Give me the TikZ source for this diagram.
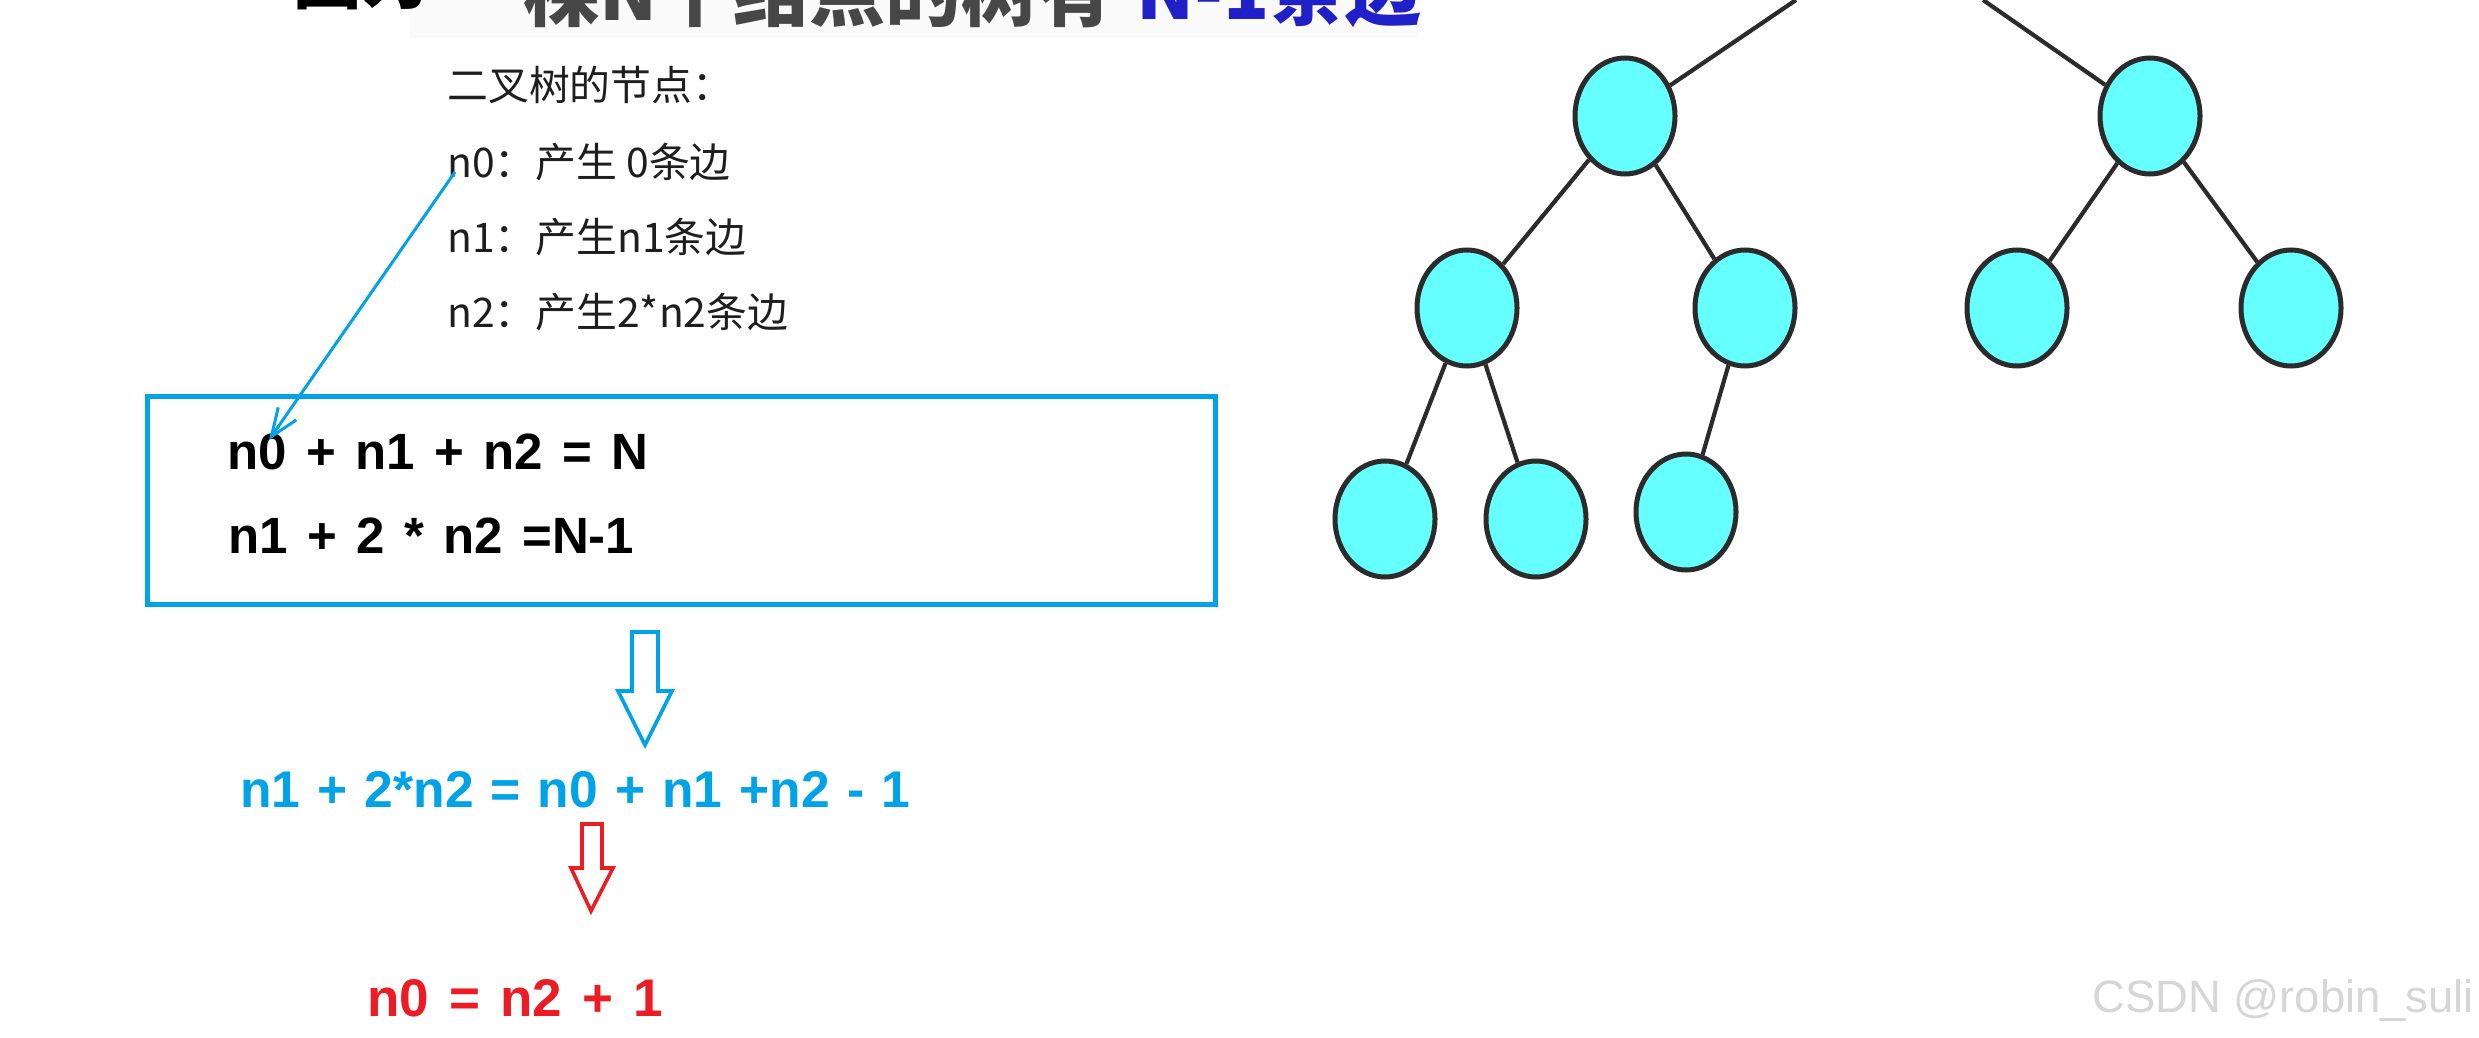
\documentclass[tikz,border=0pt]{standalone}
\usepackage{fontspec}
\setmainfont{Liberation Sans}
\newfontfamily\cjk{Noto Sans CJK SC}
\usetikzlibrary{arrows.meta,shapes.geometric}
\definecolor{paintblue}{HTML}{00A2E8}
\definecolor{paintred}{HTML}{ED1C24}
\definecolor{nodecyan}{HTML}{66FFFF}
\definecolor{edgegray}{HTML}{2B2B2B}
\definecolor{titleblue}{HTML}{2020C8}
\definecolor{listgray}{HTML}{1E1E1E}
\newcommand\myeqspace{\spaceskip=0.38em\relax}
\newcommand\myeqspaceb{\spaceskip=0.33em\relax}
\begin{document}
\begin{tikzpicture}[x=0.5pt,y=-0.5pt,
  treenode/.style={ellipse, draw=edgegray, line width=2.5pt, fill=nodecyan,
    minimum width=50pt, minimum height=58pt, inner sep=0pt},
  treeedge/.style={draw=edgegray, line width=2.1pt},
  txt/.style={anchor=base west, inner sep=0pt},
  listtxt/.style={txt, text=listgray, font=\fontsize{20.4pt}{24pt}\selectfont\cjk},
  eqtxt/.style={txt, font=\fontsize{25.5pt}{30pt}\selectfont\bfseries\myeqspace},
  eqmid/.style={txt, font=\fontsize{25.8pt}{30pt}\selectfont\bfseries\myeqspaceb},
  eqbig/.style={txt, font=\fontsize{26.5pt}{30pt}\selectfont\bfseries\myeqspace},
  hollowarrow/.style={line width=1.8pt, fill=white, line join=miter},
  titletxt/.style={txt, font=\fontsize{38pt}{40pt}\selectfont\cjk\bfseries}]
\useasboundingbox (0,0) rectangle (2479,1038);
\clip (0,0) rectangle (2479,1038);
\fill[white] (0,0) rectangle (2479,1038);

% clipped title
\fill[black!2] (410,0) rectangle (1419,38);
\node[titletxt, font=\fontsize{34pt}{40pt}\selectfont\cjk\bfseries, text=black] (t1) at (293,4) {因为};
\node[titletxt, text=black!72] (t2) at (447,21) {一棵N个结点的树有};
\node[titletxt, text=titleblue] (t3) at (1136,20) {N-1条边};

% list
\node[listtxt] (l0) at (447,101) {二叉树的节点：};
\node[listtxt] (l1) at (447,177) {n0：产生 0条边};
\node[listtxt] (l2) at (447,252) {n1：产生n1条边};
\node[listtxt] (l3) at (447,327) {n2：产生2*n2条边};

% box
\node[draw=paintblue, line width=2.5pt, minimum width=534pt, minimum height=104pt,
  inner sep=0pt, anchor=north west] (box) at (145,394) {};
\node[eqtxt] (e1) at (227,469) {n0 + n1 + n2 = N};
\node[eqtxt] (e2) at (228,553) {n1 + 2 * n2 =N-1};

% connector
\coordinate (cs) at (455,172);
\coordinate (ce) at (269,440);
\draw[paintblue, line width=1.5pt, -{Straight Barb[length=14pt,width=11pt]}] (cs) -- (ce);

% hollow arrows
\draw[paintblue, hollowarrow] (632,632) -- (658,632) -- (658,691) -- (672,691)
  -- (645,745) -- (618,691) -- (632,691) -- cycle;
\node[eqmid, text=paintblue] (e3) at (240,807) {n1 + 2*n2 = n0 + n1 +n2 - 1};
\draw[paintred, hollowarrow] (582,824) -- (602,824) -- (602,868) -- (613,868)
  -- (591,911) -- (571,868) -- (582,868) -- cycle;
\node[eqbig, text=paintred] (e4) at (367,1016) {n0 = n2 + 1};

% tree
\coordinate (rl) at (1796,0);
\coordinate (rr) at (1983,0);
\node[treenode] (a) at (1625,116) {};
\node[treenode] (b) at (2150,116) {};
\node[treenode] (c) at (1467,308) {};
\node[treenode] (d) at (1745,308) {};
\node[treenode] (e) at (2017,308) {};
\node[treenode] (f) at (2291,308) {};
\node[treenode] (g) at (1385,519) {};
\node[treenode] (h) at (1536,519) {};
\node[treenode] (i) at (1686,512) {};
\draw[treeedge] (a) -- (rl);
\draw[treeedge] (b) -- (rr);
\draw[treeedge] (a) -- (c);
\draw[treeedge] (a) -- (d);
\draw[treeedge] (b) -- (e);
\draw[treeedge] (b) -- (f);
\draw[treeedge] (c) -- (g);
\draw[treeedge] (c) -- (h);
\draw[treeedge] (d) -- (i);

% watermark
\node[txt, text=black!16, font=\fontsize{22.7pt}{26pt}\selectfont] (wm) at (2092,1012) {CSDN @robin\_suli};
\end{tikzpicture}
\end{document}
